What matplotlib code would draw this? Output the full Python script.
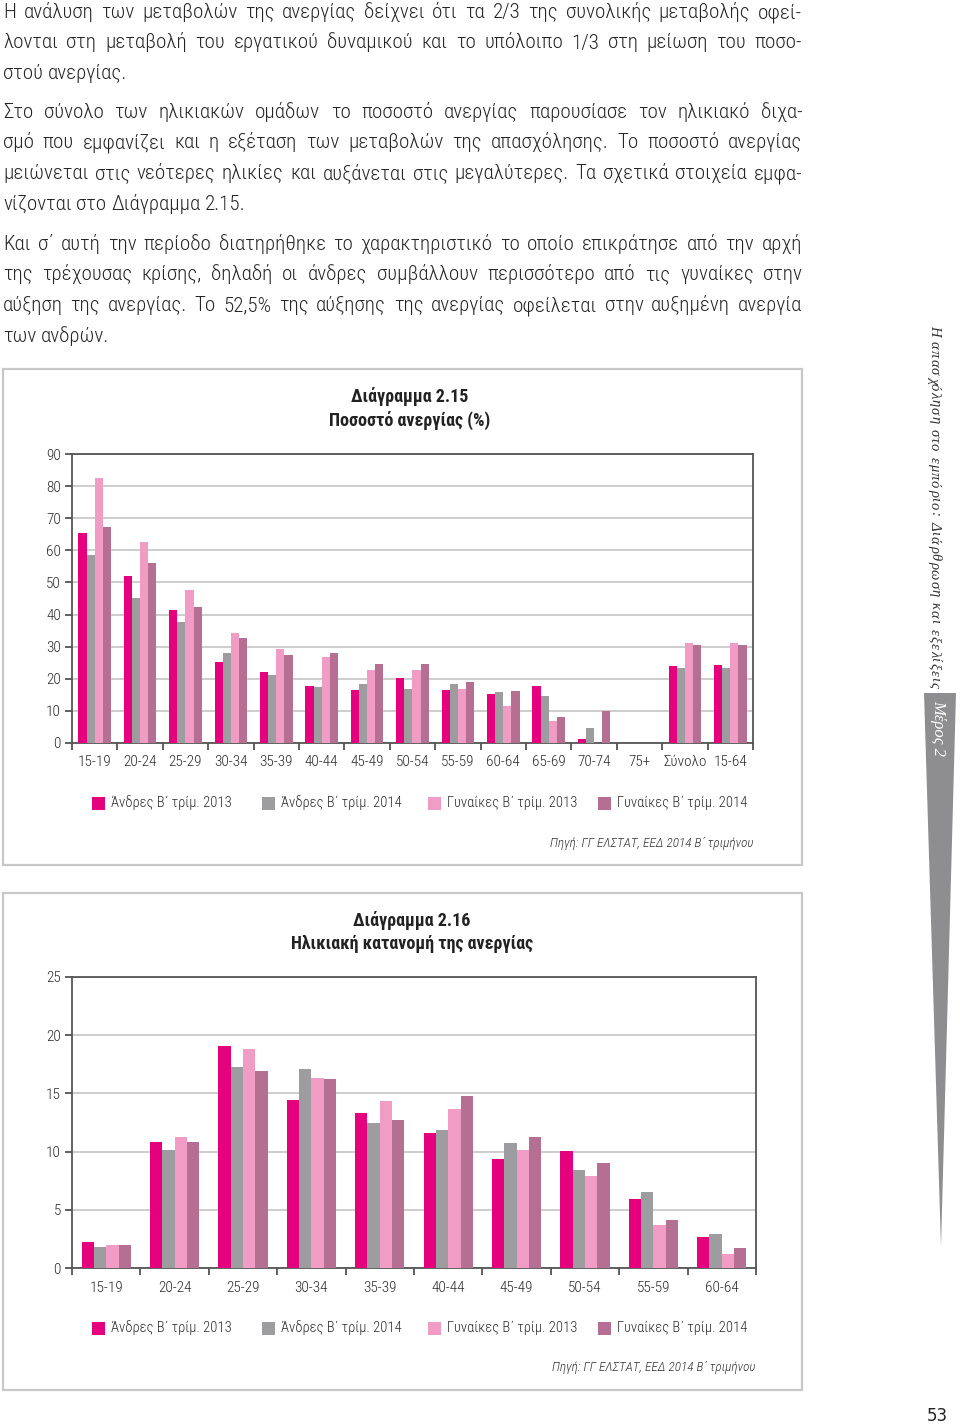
import numpy as np
import matplotlib
matplotlib.use('Agg')
import matplotlib.pyplot as plt
from matplotlib import font_manager
from matplotlib.patches import Rectangle, Polygon

# ---------------- data ----------------
cats1 = ['15-19', '20-24', '25-29', '30-34', '35-39', '40-44', '45-49', '50-54',
         '55-59', '60-64', '65-69', '70-74', '75+', 'Σύνολο', '15-64']
men13_1 = [65.4, 52.1, 41.5, 25.3, 22.2, 17.8, 16.5, 20.1, 16.6, 15.4, 17.8, 1.3, 0, 24.1, 24.4]
men14_1 = [58.6, 45.3, 37.7, 28.0, 21.1, 17.5, 18.3, 16.8, 18.4, 15.8, 14.7, 4.8, 0, 23.4, 23.4]
wom13_1 = [82.4, 62.6, 47.6, 34.2, 29.4, 26.8, 22.7, 22.7, 16.8, 11.6, 7.0, 0, 0, 31.0, 31.2]
wom14_1 = [67.4, 56.0, 42.3, 32.7, 27.3, 28.1, 24.5, 24.5, 19.1, 16.1, 8.1, 9.9, 0, 30.4, 30.4]

cats2 = ['15-19', '20-24', '25-29', '30-34', '35-39', '40-44', '45-49', '50-54', '55-59', '60-64']
men13_2 = [2.26, 10.86, 19.03, 14.46, 13.29, 11.57, 9.34, 10.06, 5.97, 2.69]
men14_2 = [1.80, 10.11, 17.31, 17.06, 12.49, 11.89, 10.77, 8.40, 6.54, 2.94]
wom13_2 = [2.00, 11.23, 18.83, 16.31, 14.31, 13.69, 10.17, 7.94, 3.66, 1.20]
wom14_2 = [1.94, 10.86, 16.91, 16.20, 12.69, 14.80, 11.23, 9.00, 4.11, 1.69]

series_labels = ['Άνδρες Β΄ τρίμ. 2013', 'Άνδρες Β΄ τρίμ. 2014',
                 'Γυναίκες Β΄ τρίμ. 2013', 'Γυναίκες Β΄ τρίμ. 2014']
COLORS = ['#e5007e', '#9d9d9f', '#f19cc4', '#b46f92']

par1 = ['Η ανάλυση των μεταβολών της ανεργίας δείχνει ότι τα 2/3 της συνολικής μεταβολής οφεί-',
        'λονται στη μεταβολή του εργατικού δυναμικού και το υπόλοιπο 1/3 στη μείωση του ποσο-',
        'στού ανεργίας.']
par2 = ['Στο σύνολο των ηλικιακών ομάδων το ποσοστό ανεργίας παρουσίασε τον ηλικιακό διχα-',
        'σμό που εμφανίζει και η εξέταση των μεταβολών της απασχόλησης. Το ποσοστό ανεργίας',
        'μειώνεται στις νεότερες ηλικίες και αυξάνεται στις μεγαλύτερες. Τα σχετικά στοιχεία εμφα-',
        'νίζονται στο Διάγραμμα 2.15.']
par3 = ['Και σ΄ αυτή την περίοδο διατηρήθηκε το χαρακτηριστικό το οποίο επικράτησε από την αρχή',
        'της τρέχουσας κρίσης, δηλαδή οι άνδρες συμβάλλουν περισσότερο από τις γυναίκες στην',
        'αύξηση της ανεργίας. Το 52,5% της αύξησης της ανεργίας οφείλεται στην αυξημένη ανεργία',
        'των ανδρών.']

# ---------------- figure ----------------
W, H = 960, 1427
fig = plt.figure(figsize=(W / 100, H / 100), dpi=100)
fig.patch.set_facecolor('white')

SANS = ['Roboto', 'DejaVu Sans']
SERIF = ['Liberation Serif', 'DejaVu Serif']

entries = font_manager.fontManager.ttflist
names = {f.name for f in entries}
BODY, BODY_C = SANS, '#1e1e1e'
for cand in ['Roboto Condensed', 'Open Sans Condensed', 'Liberation Sans Narrow']:
    if cand in names:
        BODY, BODY_C = [cand, 'DejaVu Sans'], '#262626'
        break

ax0 = fig.add_axes([0, 0, 1, 1], zorder=0)
ax0.set_xlim(0, W)
ax0.set_ylim(H, 0)
ax0.axis('off')
renderer = fig.canvas.get_renderer()


def tw(s, **kw):
    t = ax0.text(0, 0, s, **kw)
    w = t.get_window_extent(renderer).width
    t.remove()
    return w


# ---- body text (justified) ----
X0, X1 = 3, 802
base_kw = dict(family=BODY, fontweight='light', color=BODY_C, va='baseline', ha='left')
size = 16.5
maxw = max(tw(l, fontsize=size, **base_kw) for p in (par1, par2, par3) for l in p[:-1])
if maxw > (X1 - X0) * 0.975:
    size = size * (X1 - X0) * 0.975 / maxw


def draw_par(lines, y0, lh=30.5):
    kw = dict(fontsize=size, **base_kw)
    natgap = tw('a a', **kw) - tw('aa', **kw)
    for i, line in enumerate(lines):
        y = y0 + i * lh
        words = line.split(' ')
        widths = [tw(w, **kw) for w in words]
        if i == len(lines) - 1 or len(words) == 1:
            gap = natgap
        else:
            gap = (X1 - X0 - sum(widths)) / (len(words) - 1)
        x = X0
        for w, wd in zip(words, widths):
            ax0.text(x, y, w, **kw)
            x += wd + gap


draw_par(par1, 18)
draw_par(par2, 118)
draw_par(par3, 250)

# ---- frames ----
for (l, t, r, b) in [(3, 369, 802, 865), (3, 893, 802, 1390)]:
    ax0.add_patch(Rectangle((l, t), r - l, b - t, fill=False, edgecolor='#c8c8c8', lw=1.6))

# ---- titles ----
tkw = dict(family=BODY, fontweight='bold', fontsize=13, color='#222', ha='center', va='center')
ax0.text(410, 396, 'Διάγραμμα 2.15', **tkw)
ax0.text(410, 420, 'Ποσοστό ανεργίας (%)', **tkw)
ax0.text(412, 920, 'Διάγραμμα 2.16', **tkw)
ax0.text(412, 944, 'Ηλικιακή κατανομή της ανεργίας', **tkw)


# ---- charts ----
def chart(rect_px, cats, series, ymax, ystep, bw):
    l, t, r, b = rect_px
    ax = fig.add_axes([l / W, 1 - b / H, (r - l) / W, (b - t) / H], zorder=2)
    n = len(cats)
    x = np.arange(n)
    for k, (vals, col) in enumerate(zip(series, COLORS)):
        ax.bar(x + (k - 1.5) * bw, vals, width=bw, color=col, linewidth=0, zorder=3)
    ax.set_xlim(-0.5, n - 0.5)
    ax.set_ylim(0, ymax)
    ax.set_yticks(np.arange(0, ymax + 0.1, ystep))
    ax.yaxis.grid(True, color='#c0c0c0', lw=1.1)
    ax.set_axisbelow(True)
    ax.set_xticks(x)
    ax.set_xticklabels(cats)
    ax.set_xticks(np.arange(-0.5, n), minor=True)
    ax.tick_params(axis='x', which='major', length=0, pad=9, labelsize=11, labelcolor='#2a2a2a')
    ax.tick_params(axis='x', which='minor', length=5, width=1.2, color='#444', direction='out')
    ax.tick_params(axis='y', length=5, width=1.2, color='#444', pad=3, labelsize=11,
                   labelcolor='#2a2a2a')
    for lab in ax.get_xticklabels() + ax.get_yticklabels():
        lab.set_family(BODY)
        lab.set_fontweight('light')
    for s in ax.spines.values():
        s.set_color('#555555')
        s.set_linewidth(1.3)
    return ax


chart((72, 454, 753, 743), cats1, [men13_1, men14_1, wom13_1, wom14_1], 90, 10, 0.18)
chart((72, 977, 756, 1268), cats2, [men13_2, men14_2, wom13_2, wom14_2], 25, 5, 0.18)

# ---- legends & sources ----
lx = [92, 262, 428, 598]
for ly in (803, 1328):
    for x, lab, col in zip(lx, series_labels, COLORS):
        ax0.add_patch(Rectangle((x, ly - 6.5), 13, 13, facecolor=col, edgecolor='none'))
        ax0.text(x + 19, ly, lab, family=BODY, fontweight='light', fontsize=10.5,
                 color='#2a2a2a', ha='left', va='center')

src = 'Πηγή: ΓΓ ΕΛΣΤΑΤ, ΕΕΔ 2014 Β΄ τριμήνου'
skw = dict(family=BODY, fontweight='light', style='italic', fontsize=9.5, color='#333',
           ha='right', va='center')
ax0.text(753, 843, src, **skw)
ax0.text(755, 1368, src, **skw)

# ---- side band ----
ax0.add_patch(Polygon([(924, 693), (956, 693), (941, 1247)], closed=True,
                      facecolor='#8e8e90', edgecolor='none'))
side = 'Η απασχόληση στο εμπόριο: Διάρθρωση και εξελίξεις'
sk = dict(fontsize=10.5, family=SERIF, style='italic', color='#333')


def Wp(s):
    return tw(s + '|', **sk) - tw('|', **sk)


Y0, Y1 = 325, 688
nat = Wp(side)
track = (Y1 - Y0 - nat) / (len(side) - 1)
for i, ch in enumerate(side):
    if ch == ' ':
        continue
    yy = Y0 + Wp(side[:i]) + i * track
    ax0.text(931, yy, ch, rotation=-90, rotation_mode='anchor', ha='left', va='baseline', **sk)

ax0.text(934, 700, 'Μέρος 2', rotation=-90, rotation_mode='anchor', ha='left', va='baseline',
         fontsize=12, family=SERIF, style='italic', color='white')

ax0.text(937, 1416, '53', family=['DejaVu Sans'], fontsize=12, color='#222',
         ha='center', va='center')

fig.savefig('out.png', dpi=100, facecolor='white')
